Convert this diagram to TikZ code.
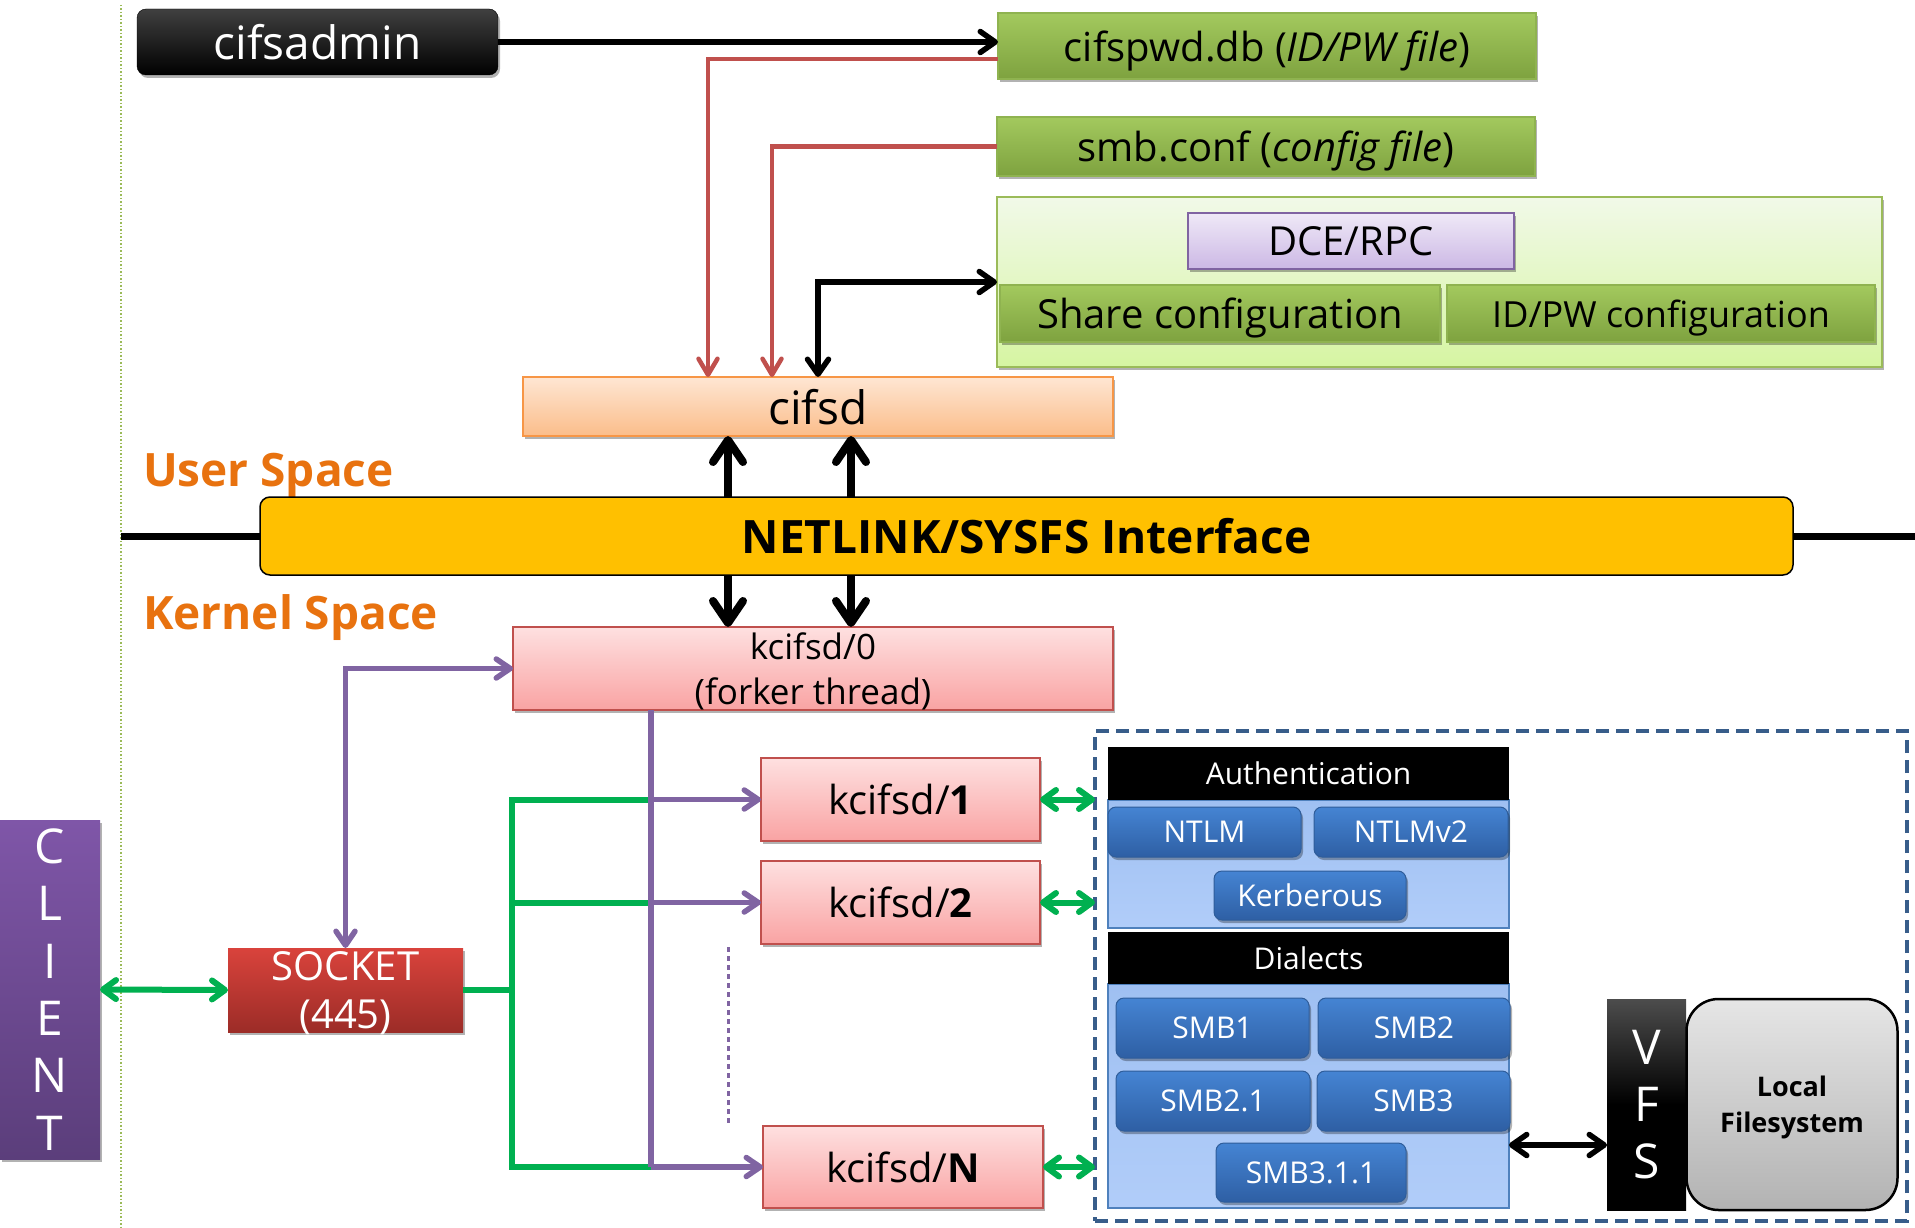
\documentclass[tikz,border=0pt]{standalone}
\usepackage{fontspec}
\setmainfont{Open Sans}
\usetikzlibrary{arrows.meta,shadows,calc}
\definecolor{grtop}{HTML}{A3C95E}
\definecolor{grbot}{HTML}{7EA23F}
\definecolor{grdraw}{HTML}{8FB350}
\definecolor{ltgtop}{HTML}{F1F9E8}
\definecolor{ltgbot}{HTML}{D6F5A2}
\definecolor{ltgdraw}{HTML}{9BBB59}
\definecolor{lavtop}{HTML}{EFE9F7}
\definecolor{lavbot}{HTML}{CCB8E5}
\definecolor{lavdraw}{HTML}{8064A2}
\definecolor{orgtop}{HTML}{FEE6D3}
\definecolor{orgbot}{HTML}{FBBD8A}
\definecolor{orgdraw}{HTML}{F79646}
\definecolor{nlfill}{HTML}{FFC000}
\definecolor{pktop}{HTML}{FEE0E0}
\definecolor{pkbot}{HTML}{F9A3A3}
\definecolor{pkdraw}{HTML}{C0504D}
\definecolor{socktop}{HTML}{D9433C}
\definecolor{sockbot}{HTML}{9C2C27}
\definecolor{cltop}{HTML}{7F56A8}
\definecolor{clbot}{HTML}{5B3E7B}
\definecolor{dashcol}{HTML}{385D8A}
\definecolor{pantop}{HTML}{9FC0F2}
\definecolor{panbot}{HTML}{B1CDF9}
\definecolor{pandraw}{HTML}{4F81BD}
\definecolor{btntop}{HTML}{4584D3}
\definecolor{btnbot}{HTML}{2E5FA4}
\definecolor{btndraw}{HTML}{2F5D9A}
\definecolor{redln}{HTML}{C0504D}
\definecolor{purln}{HTML}{8064A2}
\definecolor{grnln}{HTML}{00B050}
\definecolor{spacecol}{HTML}{E8720F}
\definecolor{vline}{HTML}{9BBB59}
\begin{document}
\begin{tikzpicture}[x=1pt,y=-1pt,
  every node/.style={inner sep=0pt, outer sep=0pt, align=center, text depth=0pt},
  shad/.style={drop shadow={shadow xshift=2pt, shadow yshift=-3pt, opacity=0.3, fill=black}},
  filebox/.style={shad, draw=grdraw, line width=1.5pt, top color=grtop, bottom color=grbot},
  kbox/.style={shad, draw=pkdraw, line width=2pt, top color=pktop, bottom color=pkbot},
  btn/.style={shad, rounded corners=8pt, draw=btndraw, line width=1pt, top color=btntop, bottom color=btnbot, text=white, font=\fontsize{30pt}{34pt}\selectfont},
  panel/.style={draw=pandraw, line width=1.5pt, top color=pantop, bottom color=panbot},
  head/.style={fill=black, text=white, font=\fontsize{30pt}{34pt}\selectfont},
  blkarr/.style={draw=black, line width=5.5pt, >={Straight Barb[length=15pt,width=21pt,round]}},
  bigarr/.style={draw=black, line width=8pt, >={Straight Barb[length=22pt,width=30pt,round]}},
  redarr/.style={draw=redln, line width=4.5pt, >={Straight Barb[length=16pt,width=19pt,round]}},
  purarr/.style={draw=purln, line width=5.5pt, >={Straight Barb[length=14pt,width=19pt,round]}},
  grnarr/.style={draw=grnln, line width=6pt, >={Straight Barb[length=13pt,width=19pt,round]}},
  spacelbl/.style={text=spacecol, font=\bfseries\fontsize{46pt}{52pt}\selectfont, anchor=base west}
]
\useasboundingbox (0,0) rectangle (1915,1228);

% background guide lines
\coordinate (vtop) at (121,5);
\coordinate (vbot) at (121,1228);
\draw[vline, line width=1.5pt, dotted] (vtop) -- (vbot);
\coordinate (lineL) at (121,536);
\coordinate (lineR) at (1915,536);
\draw[black, line width=7pt] (lineL) -- (lineR);

% user space
\node[shad, rounded corners=9pt, draw=black, top color=black!75, bottom color=black, text=white,
  minimum width=361pt, minimum height=66pt, font=\fontsize{46pt}{52pt}\selectfont] (cifsadmin) at (317.5,42) {cifsadmin};
\node[filebox, minimum width=538pt, minimum height=66pt, font=\fontsize{40pt}{46pt}\selectfont] (pwd) at (1267,46) {cifspwd.db (\textit{ID/PW file})};
\node[filebox, minimum width=538pt, minimum height=59pt, font=\fontsize{40pt}{46pt}\selectfont] (smbconf) at (1266,146.5) {smb.conf (\textit{config file})};
\node[shad, draw=ltgdraw, line width=1.5pt, top color=ltgtop, bottom color=ltgbot, minimum width=885pt, minimum height=170pt] (cont) at (1439.5,282) {};
\node[shad, draw=lavdraw, line width=2pt, top color=lavtop, bottom color=lavbot, minimum width=326pt, minimum height=56pt, font=\fontsize{40pt}{46pt}\selectfont] (dce) at (1351,241) {DCE/RPC};
\node[filebox, minimum width=440pt, minimum height=57pt, font=\fontsize{40pt}{46pt}\selectfont] (share) at (1220,313.5) {Share configuration};
\node[filebox, minimum width=428pt, minimum height=57pt, font=\fontsize{36pt}{42pt}\selectfont] (idpw) at (1661,313.5) {ID/PW configuration};
\node[shad, draw=orgdraw, line width=2pt, top color=orgtop, bottom color=orgbot, minimum width=590pt, minimum height=59pt, font=\fontsize{46pt}{52pt}\selectfont] (cifsd) at (818,406.5) {cifsd};

\node[spacelbl] (user) at (143,486) {User Space};
\node[spacelbl] (kernel) at (143,629) {Kernel Space};

\node[rounded corners=10pt, draw=black, line width=1.5pt, fill=nlfill, minimum width=1533pt, minimum height=78pt, font=\bfseries\fontsize{46pt}{52pt}\selectfont] (netlink) at (1026.5,536) {NETLINK/SYSFS Interface};

% kernel space
\node[kbox, minimum width=600pt, minimum height=83pt, font=\fontsize{35pt}{45pt}\selectfont] (k0) at (813,668.5) {kcifsd/0\\(forker thread)};
\node[kbox, minimum width=279pt, minimum height=83pt, font=\fontsize{40pt}{46pt}\selectfont] (k1) at (900.5,799.5) {kcifsd/\textbf{1}};
\node[kbox, minimum width=279pt, minimum height=83pt, font=\fontsize{40pt}{46pt}\selectfont] (k2) at (900.5,902.5) {kcifsd/\textbf{2}};
\node[kbox, minimum width=280pt, minimum height=82pt, font=\fontsize{40pt}{46pt}\selectfont] (kN) at (903,1167) {kcifsd/\textbf{N}};
\node[shad, top color=socktop, bottom color=sockbot, text=white, minimum width=235pt, minimum height=84pt, font=\fontsize{40pt}{48pt}\selectfont] (socket) at (345.5,990) {SOCKET\\(445)};
\node[shad, top color=cltop, bottom color=clbot, text=white, minimum width=100pt, minimum height=339pt, font=\fontsize{48pt}{57.4pt}\selectfont] (client) at (50,989.5) {C\\L\\I\\E\\N\\T};

% module box
\node[draw=dashcol, line width=4pt, dash pattern=on 13pt off 7pt, minimum width=812pt, minimum height=490pt] (dash) at (1501,976) {};
\node[panel, minimum width=401pt, minimum height=128pt] (authpanel) at (1308.5,864) {};
\node[head, minimum width=401pt, minimum height=53pt] (authhead) at (1308.5,773.5) {Authentication};
\node[btn, minimum width=193pt, minimum height=50pt] (ntlm) at (1204.5,832) {NTLM};
\node[btn, minimum width=194pt, minimum height=50pt] (ntlmv2) at (1411,832) {NTLMv2};
\node[btn, minimum width=192pt, minimum height=49pt] (kerb) at (1310,895.5) {Kerberous};
\node[panel, minimum width=401pt, minimum height=224pt] (dialpanel) at (1308.5,1096) {};
\node[head, minimum width=401pt, minimum height=52pt] (dialhead) at (1308.5,958) {Dialects};
\node[btn, minimum width=193pt, minimum height=60pt] (smb1) at (1212.5,1028) {SMB1};
\node[btn, minimum width=192pt, minimum height=60pt] (smb2) at (1414,1028) {SMB2};
\node[btn, minimum width=194pt, minimum height=60pt] (smb21) at (1213,1101) {SMB2.1};
\node[btn, minimum width=193pt, minimum height=60pt] (smb3) at (1413.5,1101) {SMB3};
\node[btn, minimum width=190pt, minimum height=59pt] (smb311) at (1311,1172.5) {SMB3.1.1};
\node[top color=black!70, bottom color=black, middle color=black, text=white, minimum width=79pt, minimum height=211pt, font=\fontsize{48pt}{57pt}\selectfont] (vfs) at (1646.5,1104.5) {V\\F\\S};
\node[rounded corners=32pt, draw=black, line width=2.5pt, top color=black!10, bottom color=black!30, minimum width=211pt, minimum height=211pt, font=\bfseries\fontsize{27pt}{36pt}\selectfont] (localfs) at (1792,1104.5) {Local\\Filesystem};

% user-space connectors
\draw[blkarr,->] (cifsadmin.east) -- (cifsadmin.east -| pwd.west);
\draw[redarr,->] ([yshift=-13pt]pwd.west) -| ([xshift=-110pt]cifsd.north);
\draw[redarr,->] (smbconf.west) -| ([xshift=-46pt]cifsd.north);
\draw[blkarr,<->] (cifsd.north) |- (cont.west);

% netlink connectors
\coordinate (ax1) at (728,0);
\coordinate (ax2) at (851,0);
\draw[bigarr,->] (netlink.north -| ax1) -- (cifsd.south -| ax1);
\draw[bigarr,->] (netlink.north -| ax2) -- (cifsd.south -| ax2);
\draw[bigarr,->] (netlink.south -| ax1) -- (k0.north -| ax1);
\draw[bigarr,->] (netlink.south -| ax2) -- (k0.north -| ax2);

% kernel connectors
\coordinate (gx) at (512,0);
\coordinate (px) at (651,0);
\coordinate (dotx) at (728,0);
\draw[grnarr] (socket.east) -- (socket.east -| gx);
\draw[grnarr, line cap=rect] (k1.west -| gx) -- (kN.west -| gx);
\draw[grnarr] (k1.west -| gx) -- (k1.west -| px);
\draw[grnarr] (k2.west -| gx) -- (k2.west -| px);
\draw[grnarr] (kN.west -| gx) -- (kN.west -| px);
\draw[purarr,<->] (socket.north) |- (k0.west);
\draw[purarr] (k0.south -| px) -- (kN.west -| px);
\draw[purarr,->] (k1.west -| px) -- (k1.west);
\draw[purarr,->] (k2.west -| px) -- (k2.west);
\draw[purarr,->] (kN.west -| px) -- (kN.west);
\draw[purln, line width=3pt, dash pattern=on 5pt off 4pt] ([yshift=-3pt]k2.south -| dotx) -- ([yshift=1pt]kN.north -| dotx);
\draw[grnarr,<->] (client.east) -- (socket.west);
\draw[grnarr,<->] (k1.east) -- (k1.east -| dash.west);
\draw[grnarr,<->] (k2.east) -- (k2.east -| dash.west);
\draw[grnarr,<->] (kN.east) -- (kN.east -| dash.west);
\draw[blkarr,<->] ([yshift=-49pt]dialpanel.east) coordinate (va) -- (va -| vfs.west);
\end{tikzpicture}
\end{document}
